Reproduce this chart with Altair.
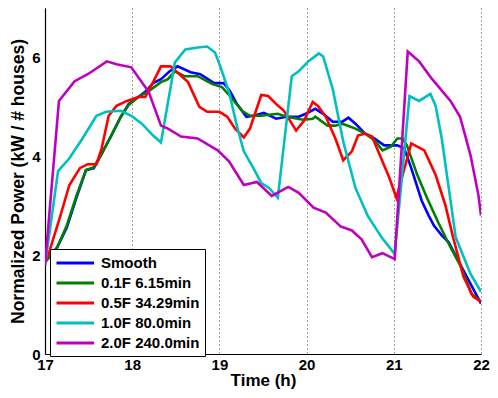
import altair as alt
import pandas as pd

series_names = ["Smooth", "0.1F 6.15min", "0.5F 34.29min", "1.0F 80.0min", "2.0F 240.0min"]
series_colors = ["#0000ff", "#008000", "#ff0000", "#00bfbf", "#bf00bf"]

smooth_t = [17.00, 17.14, 17.25, 17.36, 17.47, 17.56, 17.64, 17.76, 17.87, 17.96, 18.07, 18.16, 18.24, 18.33,
            18.43, 18.52, 18.67, 18.78, 18.94, 19.05, 19.12, 19.20, 19.31, 19.39, 19.51, 19.65, 19.77, 19.91,
            19.99, 20.10, 20.19, 20.30, 20.41, 20.48, 20.56, 20.67, 20.78, 20.89, 21.04, 21.12, 21.20, 21.32,
            21.40, 21.46, 21.55, 21.63, 21.76, 21.88, 22.00]
smooth_v = [1.86, 2.16, 2.56, 3.16, 3.72, 3.76, 4.02, 4.42, 4.80, 5.06, 5.20, 5.32, 5.48, 5.56,
            5.72, 5.82, 5.70, 5.66, 5.48, 5.48, 5.32, 5.06, 4.80, 4.82, 4.88, 4.76, 4.80, 4.80,
            4.86, 4.96, 4.86, 4.70, 4.70, 4.78, 4.66, 4.46, 4.36, 4.22, 4.22, 4.16, 3.76, 3.10,
            2.80, 2.60, 2.40, 2.26, 1.82, 1.42, 1.02]

f01_t = [17.00, 17.14, 17.25, 17.36, 17.47, 17.56, 17.64, 17.76, 17.87, 17.96, 18.07, 18.19, 18.33, 18.41,
         18.49, 18.60, 18.75, 18.92, 19.03, 19.12, 19.26, 19.35, 19.48, 19.57, 19.67, 19.77, 19.96, 20.07,
         20.10, 20.24, 20.33, 20.41, 20.56, 20.67, 20.78, 20.87, 20.97, 21.04, 21.10, 21.15, 21.27, 21.38,
         21.51, 21.65, 21.76, 21.89, 22.00]
f01_v = [1.86, 2.16, 2.60, 3.20, 3.72, 3.78, 4.02, 4.42, 4.80, 5.04, 5.20, 5.32, 5.50, 5.56,
         5.72, 5.62, 5.62, 5.46, 5.40, 5.22, 4.92, 4.82, 4.82, 4.84, 4.86, 4.80, 4.74, 4.76,
         4.80, 4.62, 4.62, 4.66, 4.56, 4.46, 4.32, 4.12, 4.20, 4.36, 4.36, 4.22, 3.62, 3.16,
         2.66, 2.16, 1.80, 1.22, 1.06]

f05_t = [17.00, 17.03, 17.17, 17.28, 17.40, 17.49, 17.59, 17.65, 17.73, 17.82, 17.94, 18.07, 18.15, 18.24,
         18.33, 18.44, 18.64, 18.77, 18.86, 19.00, 19.09, 19.18, 19.28, 19.35, 19.48, 19.56, 19.65, 19.74,
         19.88, 19.97, 20.07, 20.13, 20.22, 20.33, 20.42, 20.52, 20.59, 20.67, 20.75, 20.84, 20.95, 21.03,
         21.20, 21.35, 21.48, 21.59, 21.68, 21.80, 21.91, 22.00]
f05_v = [1.86, 1.96, 2.76, 3.42, 3.76, 3.84, 3.84, 4.16, 4.82, 5.02, 5.12, 5.20, 5.20, 5.50,
         5.82, 5.82, 5.50, 5.00, 4.90, 4.90, 4.80, 4.56, 4.38, 4.56, 5.24, 5.22, 5.06, 4.92,
         4.52, 4.72, 5.10, 5.02, 4.80, 4.36, 3.92, 4.10, 4.42, 4.46, 4.40, 4.02, 3.56, 3.16,
         4.26, 4.12, 3.62, 3.02, 2.36, 1.56, 1.16, 1.06]

f10_t = [17.00, 17.15, 17.28, 17.43, 17.59, 17.70, 17.87, 17.99, 18.11, 18.24, 18.33, 18.49, 18.61, 18.75,
         18.86, 18.95, 19.01, 19.11, 19.20, 19.28, 19.39, 19.48, 19.57, 19.67, 19.83, 19.91, 20.02, 20.14,
         20.19, 20.30, 20.42, 20.56, 20.70, 20.86, 21.01, 21.18, 21.29, 21.42, 21.48, 21.55, 21.63, 21.71,
         21.88, 22.00]
f10_v = [1.80, 3.70, 3.96, 4.36, 4.82, 4.90, 4.92, 4.82, 4.66, 4.42, 4.28, 5.90, 6.16, 6.20,
         6.22, 6.10, 5.82, 5.30, 4.62, 4.10, 3.76, 3.46, 3.36, 3.16, 5.62, 5.72, 5.92, 6.08,
         6.02, 5.36, 4.30, 3.36, 2.80, 2.36, 2.02, 5.22, 5.12, 5.26, 5.02, 4.36, 3.36, 2.36,
         1.62, 1.26]

f20_t = [17.00, 17.16, 17.34, 17.49, 17.71, 17.82, 17.99, 18.19, 18.33, 18.41, 18.56, 18.75, 18.98, 19.11,
         19.28, 19.43, 19.60, 19.79, 19.91, 20.08, 20.22, 20.39, 20.52, 20.63, 20.75, 20.87, 21.01, 21.16,
         21.29, 21.44, 21.65, 21.76, 21.88, 21.97, 22.00]
f20_v = [1.80, 5.12, 5.52, 5.66, 5.92, 5.86, 5.80, 5.30, 4.62, 4.56, 4.40, 4.36, 4.12, 3.90,
         3.42, 3.48, 3.20, 3.38, 3.26, 2.96, 2.86, 2.58, 2.50, 2.32, 1.96, 2.04, 1.92, 6.12,
         5.92, 5.56, 5.12, 4.80, 4.02, 3.22, 2.80]

x_ticks = [17, 18, 19, 20, 21, 22]
y_ticks = [0, 2, 4, 6]

all_t = [smooth_t, f01_t, f05_t, f10_t, f20_t]
all_v = [smooth_v, f01_v, f05_v, f10_v, f20_v]
rows = []
for name, ts, vs in zip(series_names, all_t, all_v):
    for t, v in zip(ts, vs):
        rows.append({"series": name, "time": t, "power": v})
df = pd.DataFrame(rows)

FONT = "Liberation Sans"

color_scale = alt.Scale(domain=series_names, range=series_colors)

legend = alt.Legend(
    title=None, orient="none", legendX=5, legendY=241,
    symbolType="M-1,0H4", symbolSize=225, symbolStrokeWidth=3,
    labelFont=FONT, labelFontSize=15, labelFontWeight="bold", labelColor="black",
    labelOffset=28, rowPadding=3, padding=5,
    strokeColor="black", fillColor="white", cornerRadius=0,
)


def layer_for(name, with_legend):
    enc_color = alt.Color("series:N", scale=color_scale, legend=legend) if with_legend else \
        alt.Color("series:N", scale=color_scale)
    return alt.Chart(df).transform_filter(alt.datum.series == name).mark_line(
        strokeWidth=2.6, clip=True
    ).encode(
        x=alt.X("time:Q", scale=alt.Scale(domain=[17, 22], nice=False),
                axis=alt.Axis(values=x_ticks, title="Time (h)", format="d", grid=True,
                              gridDash=[1, 3], gridColor="#444", gridWidth=1,
                              ticks=False, domainColor="black", domainWidth=1.2,
                              labelFlush=False,
                              labelFont=FONT, labelFontSize=15, labelFontWeight="bold",
                              labelColor="black", labelPadding=3,
                              titleFont=FONT, titleFontSize=17, titleFontWeight="bold",
                              titleColor="black", titlePadding=0)),
        y=alt.Y("power:Q", scale=alt.Scale(domain=[0, 7], nice=False),
                axis=alt.Axis(values=y_ticks, title="Normalized Power (kW / # houses)", grid=False,
                              ticks=False, domainColor="black", domainWidth=1.2,
                              labelFlush=False,
                              labelFont=FONT, labelFontSize=15, labelFontWeight="bold",
                              labelColor="black", labelPadding=5,
                              titleFont=FONT, titleFontSize=17.5, titleFontWeight="bold",
                              titleColor="black", titlePadding=4)),
        color=enc_color,
    )


layers = [layer_for(n, i == 0) for i, n in enumerate(series_names)]
chart = alt.layer(*layers).properties(
    width=436, height=346,
    autosize=alt.AutoSizeParams(type="none"),
    padding={"left": 37, "top": 0, "right": 9, "bottom": 36},
).configure_view(stroke=None)

chart.save("out.html", embed_options={"renderer": "svg", "actions": False})
